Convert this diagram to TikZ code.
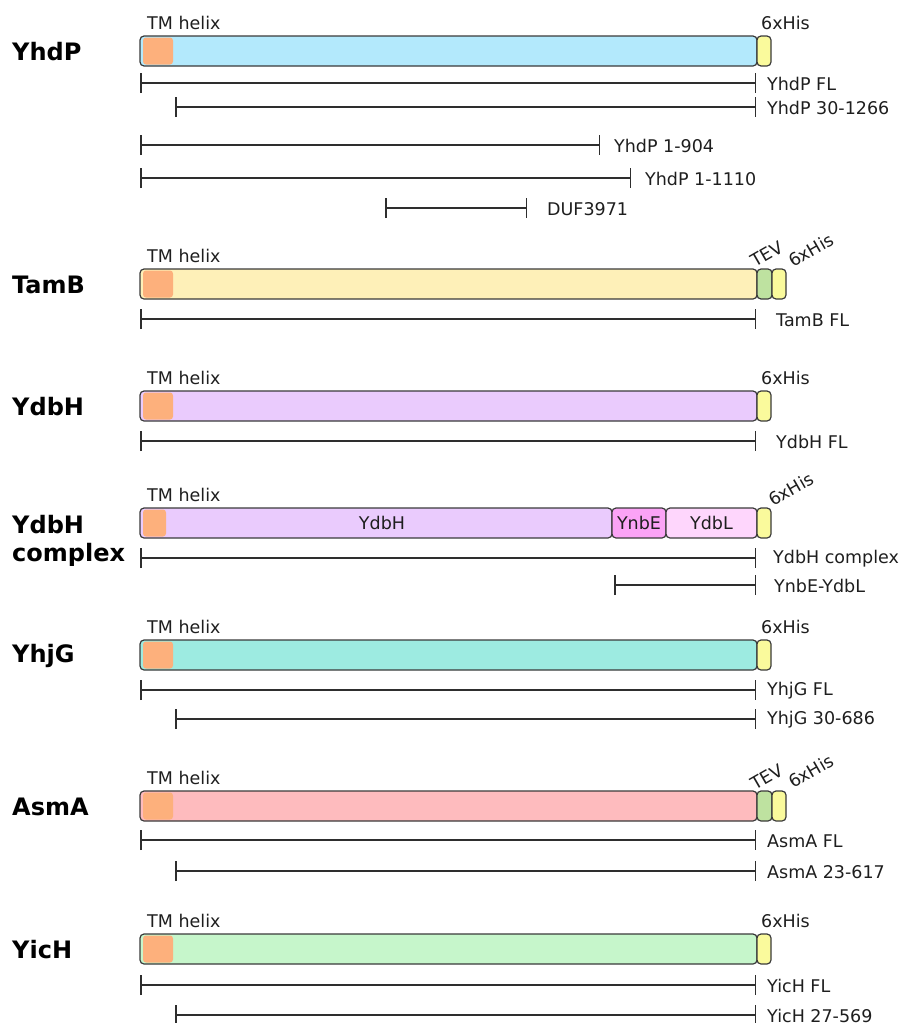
\documentclass[tikz,border=0pt]{standalone}
\usepackage{fontspec}
\setmainfont{DejaVu Sans}
\usetikzlibrary{arrows.meta}
\definecolor{edgecol}{HTML}{3A3A3A}
\definecolor{rulecol}{HTML}{2E2E2E}
\definecolor{txtcol}{HTML}{1E1E1E}
\definecolor{tmcol}{HTML}{FDB07C}
\definecolor{hiscol}{HTML}{FAFA9C}
\definecolor{tevcol}{HTML}{BEE2A0}
\definecolor{cYhdP}{HTML}{B3E9FC}
\definecolor{cTamB}{HTML}{FEF0B8}
\definecolor{cYdbH}{HTML}{EACBFD}
\definecolor{cYnbE}{HTML}{FBA3F6}
\definecolor{cYdbL}{HTML}{FED6FC}
\definecolor{cYhjG}{HTML}{9DEBE1}
\definecolor{cAsmA}{HTML}{FEBBBE}
\definecolor{cYicH}{HTML}{C6F6CB}
\tikzset{
  bar/.style={draw=edgecol, line width=1.2pt, rounded corners=4pt, inner sep=0pt, outer sep=0pt, anchor=north west, minimum height=30pt},
  tm/.style={fill=tmcol, rounded corners=3pt, inner sep=0pt, outer sep=0pt, anchor=north west, minimum width=30pt, minimum height=27pt},
  his/.style={bar, fill=hiscol, minimum width=14pt},
  tev/.style={bar, fill=tevcol, minimum width=15pt},
  ruler/.style={draw=rulecol, line width=1.5pt, {Bar[width=20pt]}-{Bar[width=20pt]}},
  lab/.style={font=\fontsize{17.5}{20}\selectfont, anchor=west, inner sep=0pt, text=txtcol},
  tmlab/.style={lab, anchor=base west},
  rotlab/.style={font=\fontsize{17.5}{20}\selectfont, inner sep=0pt, text=txtcol, rotate=30},
  protname/.style={font=\fontsize{24}{28}\selectfont\bfseries, anchor=west, inner sep=0pt, text=black},
}
\newcommand\prow[4]{%
  \node[bar, fill=#3, minimum width=617pt] (b#1) at (140,#2) {};
  \node[tm] (t#1) at (143,#2+1.5) {};
  \node[tmlab] (m#1) at (147,#2-6.5) {TM helix};
  \node[protname] (n#1) at (12,#2+16) {#4};
}
\newcommand\rul[6]{%
  \coordinate (#1a) at (#2,#4);
  \coordinate (#1b) at (#3,#4);
  \draw[ruler] (#1a) -- (#1b);
  \node[lab] (#1l) at (#5,#4+1) {#6};
}
\begin{document}
\begin{tikzpicture}[x=1pt,y=-1pt]
\useasboundingbox (0,0) rectangle (900,1023);
% YhdP
\prow{YhdP}{36}{cYhdP}{YhdP}
\node[his] (hYhdP) at (757,36) {};
\node[tmlab] (xYhdP) at (761,29.5) {6xHis};
\rul{r1}{140}{756}{83}{767}{YhdP FL}
\rul{r2}{175}{756}{107}{767}{YhdP 30-1266}
\rul{r3}{140}{600}{145}{614}{YhdP 1-904}
\rul{r4}{140}{631}{178}{645}{YhdP 1-1110}
\rul{r5}{385}{527}{208}{547}{DUF3971}
% TamB
\prow{TamB}{269}{cTamB}{TamB}
\node[tev] (eTamB) at (757,269) {};
\node[his] (hTamB) at (772,269) {};
\node[rotlab] (vTamB) at (767,254) {TEV};
\node[rotlab] (xTamB) at (811,250) {6xHis};
\rul{r6}{140}{756}{319}{776}{TamB FL}
% YdbH
\prow{YdbH}{391}{cYdbH}{YdbH}
\node[his] (hYdbH) at (757,391) {};
\node[tmlab] (xYdbH) at (761,384.5) {6xHis};
\rul{r7}{140}{756}{441}{776}{YdbH FL}
% YdbH complex
\node[bar, fill=cYdbH, minimum width=472pt] (bCx) at (140,508) {};
\node[tm, minimum width=23pt] (tCx) at (143,509.5) {};
\node[bar, fill=cYnbE, minimum width=54pt] (eCx) at (612,508) {};
\node[bar, fill=cYdbL, minimum width=91pt] (lCx) at (666,508) {};
\node[his] (hCx) at (757,508) {};
\node[lab, anchor=center] (sCx) at ([xshift=6pt]bCx.center) {YdbH};
\node[lab, anchor=center] (yCx) at (eCx.center) {YnbE};
\node[lab, anchor=center] (zCx) at (lCx.center) {YdbL};
\node[tmlab] (mCx) at (147,501.5) {TM helix};
\node[rotlab] (xCx) at (791,489) {6xHis};
\node[protname] (nCx1) at (12,525) {YdbH};
\node[protname] (nCx2) at (12,555) {complex};
\rul{r8}{140}{756}{558}{773}{YdbH complex}
\rul{r9}{614}{756}{585}{774}{YnbE-YdbL}
% YhjG
\prow{YhjG}{640}{cYhjG}{YhjG}
\node[his] (hYhjG) at (757,640) {};
\node[tmlab] (xYhjG) at (761,633.5) {6xHis};
\rul{r10}{140}{756}{690}{767}{YhjG FL}
\rul{r11}{175}{756}{719}{767}{YhjG 30-686}
% AsmA
\prow{AsmA}{791}{cAsmA}{AsmA}
\node[tev] (eAsmA) at (757,791) {};
\node[his] (hAsmA) at (772,791) {};
\node[rotlab] (vAsmA) at (767,777) {TEV};
\node[rotlab] (xAsmA) at (811,771) {6xHis};
\rul{r12}{140}{756}{840}{767}{AsmA FL}
\rul{r13}{175}{756}{871}{767}{AsmA 23-617}
% YicH
\prow{YicH}{934}{cYicH}{YicH}
\node[his] (hYicH) at (757,934) {};
\node[tmlab] (xYicH) at (761,927.5) {6xHis};
\rul{r14}{140}{756}{985}{767}{YicH FL}
\rul{r15}{175}{756}{1015}{767}{YicH 27-569}
\end{tikzpicture}
\end{document}
